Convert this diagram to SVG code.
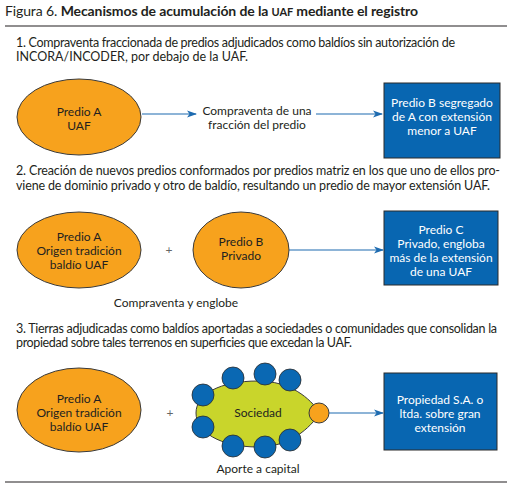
<svg xmlns="http://www.w3.org/2000/svg" width="512" height="489" viewBox="0 0 512 489">
<style>
text{font-family:Lato,"Liberation Sans",sans-serif;fill:#231f20}
.t{font-size:12.5px}
.n{font-size:12px;text-anchor:middle}
.w{fill:#fff;font-size:12px;text-anchor:middle}
.or{fill:#f7a21d;stroke:#3a3a3a;stroke-width:1}
.bx{fill:#0866b1;stroke:#2a2a2a;stroke-width:1}
.bc{fill:#0a68b3;stroke:#2a2a2a;stroke-width:0.8}
.ln{stroke:#1d6bb0;stroke-width:1.2;fill:none;marker-end:url(#ah)}
.rule{stroke:#231f20;stroke-width:1.2}
</style>
<defs>
<marker id="ah" markerWidth="10" markerHeight="8" refX="9" refY="4" orient="auto" markerUnits="userSpaceOnUse">
<path d="M0,0.5 L10,4 L0,7.5 L2.5,4 Z" fill="#1d6bb0"/>
</marker>
</defs>
<rect width="512" height="489" fill="#fff"/>
<g id="title">
<text x="5" y="16" style="font-size:14px" textLength="413"><tspan>Figura 6. </tspan><tspan font-weight="bold">Mecanismos de acumulación de la <tspan style="font-size:11px">UAF</tspan> mediante el registro</tspan></text>
<line class="rule" x1="5" y1="26" x2="507" y2="26"/>
</g>
<g id="section1-text">
<text class="t" x="16" y="47" textLength="439">1. Compraventa fraccionada de predios adjudicados como baldíos sin autorización de</text>
<text class="t" x="16" y="61" textLength="232">INCORA/INCODER, por debajo de la UAF.</text>
</g>
<g id="n1a"><ellipse class="or" cx="79" cy="117" rx="62" ry="38"/>
<text class="n" x="79" y="116">Predio A</text><text class="n" x="79" y="130">UAF</text></g>
<g id="n1label"><text class="n" x="257" y="115">Compraventa de una</text><text class="n" x="257" y="129">fracción del predio</text></g>
<g id="n1b"><rect class="bx" x="384" y="83" width="116" height="75"/>
<text class="w" x="442" y="107">Predio B segregado</text><text class="w" x="442" y="121">de A con extensión</text><text class="w" x="442" y="135">menor a UAF</text></g>
<g id="section2-text">
<text class="t" x="16" y="175" textLength="484">2. Creación de nuevos predios conformados por predios matriz en los que uno de ellos pro-</text>
<text class="t" x="16" y="190" textLength="474">viene de dominio privado y otro de baldío, resultando un predio de mayor extensión UAF.</text>
</g>
<g id="n2a"><ellipse class="or" cx="79" cy="250" rx="62" ry="38"/>
<text class="n" x="79" y="241">Predio A</text><text class="n" x="79" y="255">Origen tradición</text><text class="n" x="79" y="269">baldío UAF</text></g>
<g id="plus2"><text class="n" x="169" y="254" style="fill:#666">+</text></g>
<g id="n2b"><ellipse class="or" cx="241" cy="250" rx="48" ry="38"/>
<text class="n" x="241" y="246">Predio B</text><text class="n" x="241" y="260">Privado</text></g>
<g id="n2c"><rect class="bx" x="384" y="211" width="114" height="74"/>
<text class="w" x="441" y="234">Predio C</text><text class="w" x="441" y="248">Privado, engloba</text><text class="w" x="441" y="262">más de la extensión</text><text class="w" x="441" y="276">de una UAF</text></g>
<g id="n2label"><text class="n" x="176" y="307">Compraventa y englobe</text></g>
<g id="section3-text">
<text class="t" x="16" y="333" textLength="481">3. Tierras adjudicadas como baldíos aportadas a sociedades o comunidades que consolidan la</text>
<text class="t" x="16" y="347" textLength="336">propiedad sobre tales terrenos en superficies que excedan la UAF.</text>
</g>
<g id="n3a"><ellipse class="or" cx="79" cy="410" rx="62" ry="42"/>
<text class="n" x="79" y="403">Predio A</text><text class="n" x="79" y="417">Origen tradición</text><text class="n" x="79" y="431">baldío UAF</text></g>
<g id="plus3"><text class="n" x="170" y="417" style="fill:#666">+</text></g>
<g id="n3soc">
<path d="M258,381 C290,381 310,398 320,413 C310,428 290,447 258,447 C220,447 196,432 196,413 C196,394 220,381 258,381 Z" fill="#c9d52b" stroke="#3a3a3a" stroke-width="1"/>
<circle class="bc" cx="203" cy="395" r="11"/>
<circle class="bc" cx="203" cy="427" r="11"/>
<circle class="bc" cx="233" cy="378" r="11"/>
<circle class="bc" cx="265" cy="374" r="11"/>
<circle class="bc" cx="290" cy="380" r="11"/>
<circle class="bc" cx="233" cy="446" r="11"/>
<circle class="bc" cx="265" cy="447" r="11"/>
<circle class="bc" cx="290" cy="440" r="11"/>
<circle class="or" cx="319" cy="413" r="10"/>
<text class="n" x="258" y="417">Sociedad</text>
</g>
<g id="n3label"><text class="n" x="258" y="473">Aporte a capital</text></g>
<g id="n3b"><rect class="bx" x="384" y="373" width="113" height="77"/>
<text class="w" x="440" y="404">Propiedad S.A. o</text><text class="w" x="440" y="418">ltda. sobre gran</text><text class="w" x="440" y="432">extensión</text></g>
<g id="connectors">
<line class="ln" x1="142" y1="114" x2="196" y2="114"/>
<line class="ln" x1="316" y1="114" x2="382" y2="114"/>
<line class="ln" x1="289" y1="250" x2="383" y2="250"/>
<line class="ln" x1="329" y1="413" x2="383" y2="413"/>
</g>
<g id="footer"><line class="rule" x1="5" y1="482" x2="507" y2="482"/></g>
</svg>
